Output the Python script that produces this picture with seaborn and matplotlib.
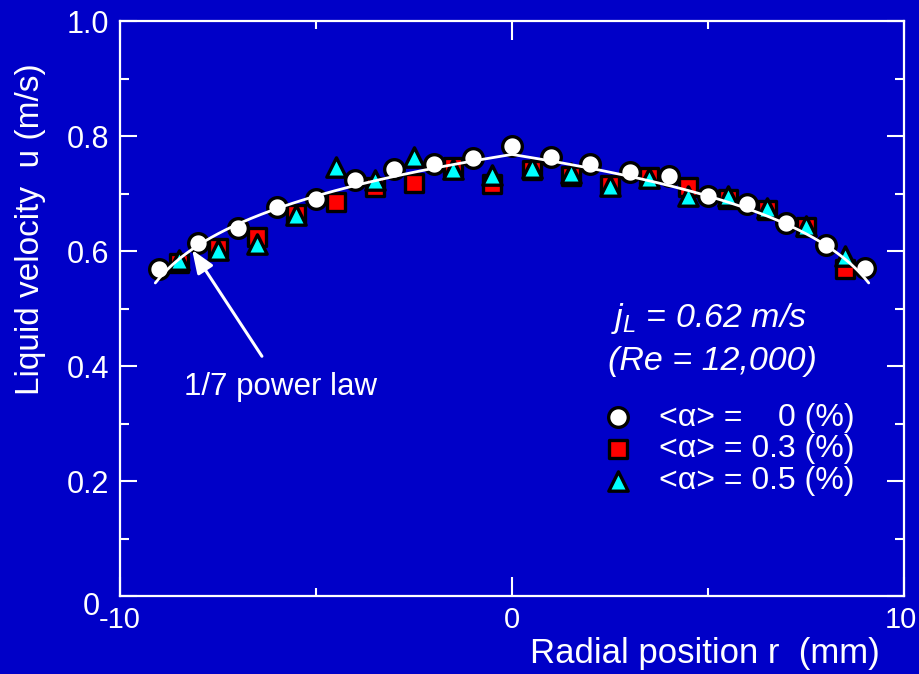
import numpy as np
import matplotlib
matplotlib.use("Agg")
import matplotlib.pyplot as plt
import matplotlib.transforms as mtrans
from matplotlib.ticker import FixedLocator, FixedFormatter
import seaborn as sns

# ---------------- data ----------------
r_int = [-9, -8, -7, -6, -5, -4, -3, -2, -1, 0, 1, 2, 3, 4, 5, 6, 7, 8, 9]
u_alpha_0 = [0.569, 0.614, 0.640, 0.676, 0.690, 0.723, 0.743, 0.751, 0.762, 0.783,
             0.763, 0.751, 0.737, 0.730, 0.696, 0.682, 0.649, 0.610, 0.570]

r_half = [-8.5, -7.5, -6.5, -5.5, -4.5, -3.5, -2.5, -1.5, -0.5,
          0.5, 1.5, 2.5, 3.5, 4.5, 5.5, 6.5, 7.5, 8.5]
u_alpha_03 = [0.580, 0.606, 0.625, 0.665, 0.686, 0.711, 0.719, 0.747, 0.717,
              0.741, 0.730, 0.715, 0.729, 0.712, 0.691, 0.672, 0.641, 0.568]
u_alpha_05 = [0.584, 0.602, 0.612, 0.662, 0.747, 0.723, 0.763, 0.743, 0.733,
              0.745, 0.735, 0.713, 0.727, 0.695, 0.695, 0.675, 0.644, 0.592]

legend_labels = ["<\u03b1> =    0 (%)", "<\u03b1> = 0.3 (%)", "<\u03b1> = 0.5 (%)"]

# 1/7 power law model curve: u = u_c (1 - |r|/R)^(1/7)
u_centre = 0.768
pipe_radius = 10.0
power = 1.0 / 7.0
curve_r_limit = 9.1

x_major_ticks = [-10, 0, 10]
x_tick_labels = ["-10", "0", "10"]
x_minor_ticks = [-5, 5]
y_major_ticks = [0, 0.2, 0.4, 0.6, 0.8, 1.0]
y_tick_labels = ["0", "0.2", "0.4", "0.6", "0.8", "1.0"]
y_minor_ticks = [0.1, 0.3, 0.5, 0.7, 0.9]

# ---------------- style ----------------
BG = "#0000C8"
sns.set_style("ticks")
plt.rcParams["font.family"] = ["Liberation Sans", "DejaVu Sans"]
plt.rcParams["mathtext.fontset"] = "custom"
plt.rcParams["mathtext.rm"] = "Liberation Sans"
plt.rcParams["mathtext.it"] = "Liberation Sans:italic"

fig = plt.figure(figsize=(9.19, 6.74), dpi=100, facecolor=BG)
ax = fig.add_axes([0.1306, 0.1157, 0.8531, 0.8531])
ax.set_facecolor(BG)

r_curve = np.linspace(-curve_r_limit, curve_r_limit, 500)
u_curve = u_centre * (1 - np.abs(r_curve) / pipe_radius) ** power

sns.scatterplot(x=r_half, y=u_alpha_03, marker="s", s=185, color="#FF0000",
                edgecolor="black", linewidth=2.4, ax=ax, zorder=3, label=legend_labels[1])
sns.scatterplot(x=r_half, y=u_alpha_05, marker="^", s=195, color="#00FFFF",
                edgecolor="black", linewidth=2.4, ax=ax, zorder=4, label=legend_labels[2])
sns.scatterplot(x=r_int, y=u_alpha_0, marker="o", s=200, color="white",
                edgecolor="black", linewidth=2.4, ax=ax, zorder=5, label=legend_labels[0])
sns.lineplot(x=r_curve, y=u_curve, color="white", lw=2, ax=ax, zorder=6)

ax.set_xlim(-10, 10)
ax.set_ylim(0, 1.0)

for s in ax.spines.values():
    s.set_color("white")
    s.set_linewidth(1.6)
    s.set_visible(True)

ax.xaxis.set_major_locator(FixedLocator(x_major_ticks))
ax.xaxis.set_major_formatter(FixedFormatter(x_tick_labels))
ax.xaxis.set_minor_locator(FixedLocator(x_minor_ticks))
ax.yaxis.set_major_locator(FixedLocator(y_major_ticks))
ax.yaxis.set_major_formatter(FixedFormatter(y_tick_labels))
ax.yaxis.set_minor_locator(FixedLocator(y_minor_ticks))

ax.tick_params(which="both", direction="in", top=True, right=True,
               colors="white", width=1.5, labelsize=22)
ax.tick_params(axis="x", which="major", length=13.5, pad=7, labelsize=21)
ax.tick_params(axis="x", which="minor", length=6)
ax.tick_params(axis="y", which="major", length=12, pad=8)
ax.tick_params(axis="y", which="minor", length=6.5)

# nudge the "0" label on y-axis and the "10" label on x-axis like the reference
lbl0 = ax.get_yticklabels()[0]
lbl0.set_transform(lbl0.get_transform() +
                   mtrans.ScaledTranslation(-9 / 100, -7 / 100, fig.dpi_scale_trans))
lbl10 = ax.get_xticklabels()[-1]
lbl10.set_transform(lbl10.get_transform() +
                    mtrans.ScaledTranslation(-3 / 100, 0, fig.dpi_scale_trans))

ax.set_ylabel("Liquid velocity  u (m/s)", color="white", fontsize=24)
ax.yaxis.set_label_coords(-0.095, 0.638)
ax.set_xlabel("Radial position r  (mm)", color="white", fontsize=25, loc="right")
ax.xaxis.set_label_coords(0.969, -0.072)

# annotation
ax.annotate("", xy=(-8.16, 0.602), xytext=(-6.38, 0.417),
            arrowprops=dict(arrowstyle="-|>,head_length=1.4,head_width=0.55",
                            color="white", lw=2.2, shrinkA=0, shrinkB=0,
                            mutation_scale=10), zorder=7)
ax.text(-8.37, 0.363, "1/7 power law", color="white", fontsize=22.5,
        ha="left", va="center")

ax.text(2.53, 0.483, r"$j_L$ = 0.62 m/s", color="white", fontsize=24.5,
        fontstyle="italic", ha="left", va="center")
ax.text(2.45, 0.407, "(Re = 12,000)", color="white", fontsize=24.5,
        fontstyle="italic", ha="left", va="center")

coll = ax.collections
handles = [coll[2], coll[0], coll[1]]
leg = ax.legend(handles=handles, labels=legend_labels, loc="upper left",
                bbox_to_anchor=(0.6144, 0.336), frameon=False, fontsize=23,
                handlelength=1.0, handletextpad=0.78, labelspacing=0.05,
                borderpad=0, borderaxespad=0, labelcolor="white")

fig.savefig("out.png", dpi=100, facecolor=BG)
